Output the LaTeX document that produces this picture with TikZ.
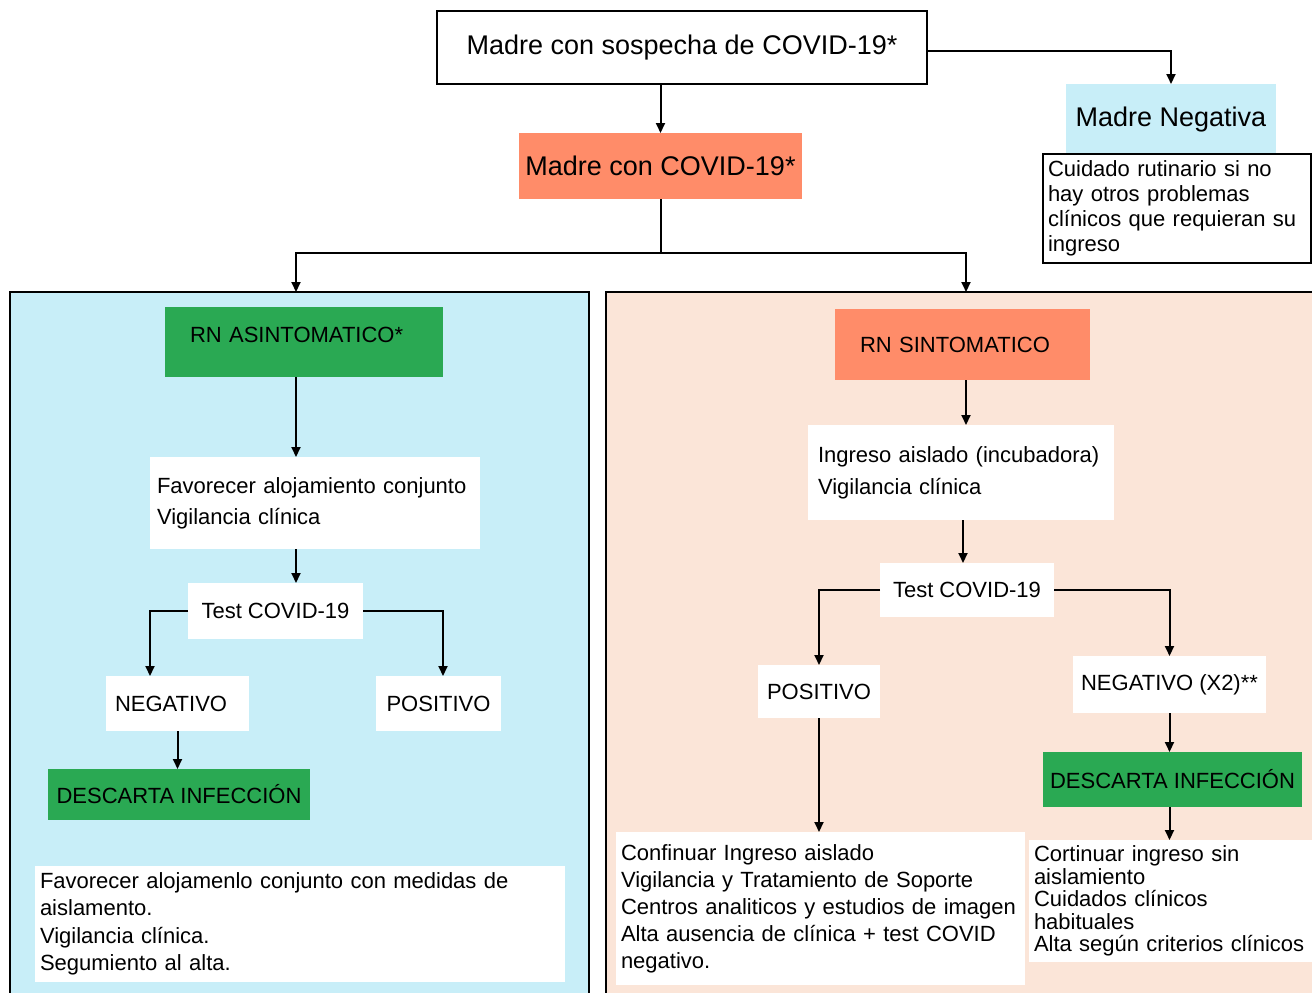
\documentclass[tikz,border=0pt]{standalone}
\usepackage{fontspec}
\setmainfont{Liberation Sans}
\usetikzlibrary{arrows.meta}
\definecolor{salmon}{HTML}{FF8C69}
\definecolor{grn}{HTML}{2AA953}
\definecolor{skyb}{HTML}{C8EEF8}
\definecolor{peach}{HTML}{FBE5D8}

\begin{document}
\begin{tikzpicture}[x=1pt,y=-1pt,
  every node/.style={inner sep=0pt, outer sep=0pt},
  big/.style={font=\fontsize{27}{32}\selectfont},
  body/.style={font=\fontsize{22}{#1}\selectfont},
  body/.default=27,
  framed/.style={draw=black, line width=2pt},
  panel/.style={draw=black, line width=2pt, anchor=north west},
  lbox/.style={align=left, text width=#1},
  conn/.style={line width=2pt},
  arr/.style={line width=2pt, -{Triangle[length=10pt,width=9pt]}}
]
\useasboundingbox (0,0) rectangle (1312,993);
\fill[white] (0,0) rectangle (1312,993);
\clip (0,0) rectangle (1312,993);

% the two coloured panels
\node[panel, fill=skyb, minimum width=579, minimum height=760] (lpan) at (10,292) {};
\node[panel, fill=peach, minimum width=760, minimum height=760] (rpan) at (606,292) {};
\coordinate (lp) at (296,292);
\coordinate (rp) at (966,292);

% top level
\node[framed, fill=white, big, minimum width=490, minimum height=73] (sus) at (682,47.5) {Madre con sospecha de COVID-19*};
\node[fill=salmon, big, minimum width=283, minimum height=66] (mcov) at (660.5,166) {Madre con COVID-19*};
\node[fill=skyb, big, minimum width=210, minimum height=69, text depth=4pt] (mneg) at (1171,118.5) {Madre Negativa};
\node[framed, fill=white, body=25, lbox=258, inner xsep=5, minimum height=109, anchor=north west] (rutina) at (1043,154)
  {Cuidado rutinario si no\\hay otros problemas\\clínicos que requieran su\\ingreso};
\coordinate (split) at (660.5,253);

% asymptomatic branch
\node[fill=grn, body, lbox=228, inner xsep=25, minimum height=70, text depth=14pt] (asin) at (304,342) {RN ASINTOMATICO*};
\node[fill=white, body=31, lbox=316, inner xsep=7, minimum height=92] (fav) at (315,503)
  {Favorecer alojamiento conjunto\\Vigilancia clínica};
\node[fill=white, body, minimum width=175, minimum height=56] (testA) at (275.5,611) {Test COVID-19};
\node[fill=white, body, lbox=125, inner xsep=9, minimum height=55] (negA) at (177.5,703.5) {NEGATIVO};
\node[fill=white, body, minimum width=125, minimum height=55] (posA) at (438.5,703.5) {POSITIVO};
\node[fill=grn, body, minimum width=262, minimum height=51] (descA) at (179,794.5) {DESCARTA INFECCIÓN};
\node[fill=white, body=27.5, lbox=520, inner xsep=5, minimum height=116] (aisl) at (300,924)
  {Favorecer alojamenlo conjunto con medidas de\\aislamento.\\Vigilancia clínica.\\Segumiento al alta.};

% symptomatic branch
\node[fill=salmon, body, lbox=205, inner xsep=25, minimum height=71] (sint) at (962.5,344.5) {RN SINTOMATICO};
\node[fill=white, body=32, lbox=286, inner xsep=10, minimum height=95] (ing) at (961,472.5)
  {Ingreso aislado (incubadora)\\Vigilancia clínica};
\node[fill=white, body, minimum width=174, minimum height=54] (testB) at (967,590) {Test COVID-19};
\node[fill=white, body, minimum width=122, minimum height=53] (posB) at (819,691.5) {POSITIVO};
\node[fill=white, body, minimum width=193, minimum height=57] (negB) at (1169.5,684.5) {NEGATIVO (X2)**};
\node[fill=grn, body, minimum width=259, minimum height=55] (descB) at (1172.5,779.5) {DESCARTA INFECCIÓN};
\node[fill=white, body=27, lbox=399, inner xsep=5, minimum height=153] (conf) at (820.5,908.5)
  {Confinuar Ingreso aislado\\Vigilancia y Tratamiento de Soporte\\Centros analiticos y estudios de imagen\\Alta ausencia de clínica + test COVID\\negativo.};
\node[fill=white, body=22.5, lbox=275, inner xsep=5, minimum height=122] (cont) at (1171.5,901)
  {Cortinuar ingreso sin\\aislamiento\\Cuidados clínicos\\habituales\\Alta según criterios clínicos};

% connectors
\draw[arr] (mcov.north |- sus.south) -- (mcov.north);
\draw[arr] ([yshift=-3.5pt]sus.east) -| (mneg.north);
\draw[conn] (mcov.south) -- (split);
\draw[arr] (split) -| (lp);
\draw[arr] (split) -| (rp);

\draw[arr] (asin.south -| lp) -- (fav.north -| lp);
\draw[arr] (fav.south -| lp) -- (testA.north -| lp);
\draw[arr] (testA.west) -| ([xshift=-27.5pt]negA.north);
\draw[arr] (testA.east) -| ([xshift=4.5pt]posA.north);
\draw[arr] (negA.south) -- (negA.south |- descA.north);

\draw[arr] (sint.south -| rp) -- (ing.north -| rp);
\draw[arr] ([xshift=2pt]ing.south) -- ([xshift=2pt]ing.south |- testB.north);
\draw[arr] (testB.west) -| (posB.north);
\draw[arr] (testB.east) -| (negB.north);
\draw[arr] (posB.south) -- (posB.south |- conf.north);
\draw[arr] (negB.south) -- (negB.south |- descB.north);
\draw[arr] (negB.south |- descB.south) -- (negB.south |- cont.north);
\end{tikzpicture}
\end{document}
